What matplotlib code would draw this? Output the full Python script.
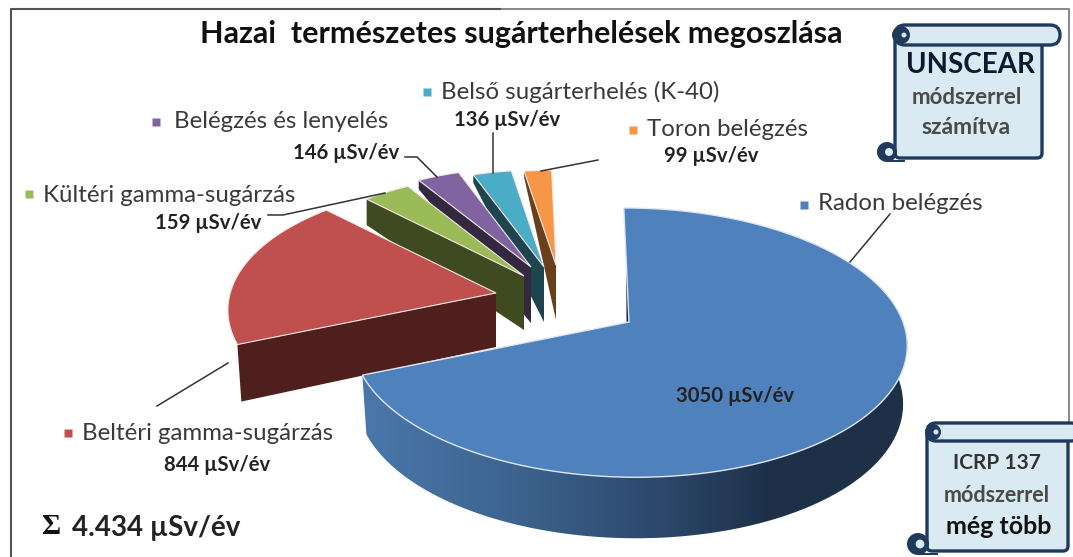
import numpy as np
import matplotlib
matplotlib.use("Agg")
import matplotlib.pyplot as plt
from matplotlib.colors import LinearSegmentedColormap
from matplotlib.patches import Polygon, FancyBboxPatch, Circle, Rectangle

# Data
names = ["Radon belégzés", "Beltéri gamma-sugárzás", "Kültéri gamma-sugárzás",
         "Belégzés és lenyelés", "Belső sugárterhelés (K-40)", "Toron belégzés"]
values = [3050, 844, 159, 146, 136, 99]
unit = "µSv/év"
total_label = "4.434 µSv/év"
title = "Hazai  természetes sugárterhelések megoszlása"

# Style, one entry per slice
top_colors = ["#4f81bd", "#c0504d", "#9bbb59", "#8064a2", "#4bacc6", "#f79646"]
side_colors = ["#1e3048", "#4f1f1e", "#3f4a21", "#33283f", "#1e4450", "#6a3f1c"]
apex = [(629, 322), (496, 293), (524, 276), (531, 267), (544, 267), (556, 265)]
shrink = [1.0, 0.97, 0.9, 0.87, 0.85, 0.83]
depth_near = [58, 54, 54, 56, 55, 55]
depth_far = [58, 57, 26, 9, 8, 6]

plt.rcParams["font.family"] = ["Lato", "DejaVu Sans"]
fig = plt.figure(figsize=(10.73, 5.57), dpi=100)
ax = fig.add_axes([0, 0, 1, 1])


def rim(t_deg, scale=1.0):
    # pie circle to picture, with some perspective (far side smaller)
    t = np.radians(t_deg)
    u, v = np.sin(t), np.cos(t)
    s = scale / (1 + 0.153 * v)
    return 274 * u * s - 6 * v * s, -131.5 * v * s


angles = np.cumsum([0] + values) / sum(values) * 360

# small slices and the red one, back to front
for i in [5, 4, 3, 2, 1]:
    t = np.linspace(angles[i], angles[i + 1], 60)
    dx, dy = rim(t, shrink[i])
    x = apex[i][0] + dx
    y = apex[i][1] + dy
    if i == 1:
        # front cut of the red slice
        side = [(x[0], y[0]), apex[i], (apex[i][0], apex[i][1] + depth_near[i]),
                (x[0] + 4, y[0] + depth_far[i])]
    else:
        side = [(x[0], y[0]), apex[i], (apex[i][0], apex[i][1] + depth_near[i]),
                (x[0], y[0] + depth_far[i])]
    ax.add_patch(Polygon(side, fc=side_colors[i], ec="none", zorder=2))
    top = np.column_stack([np.r_[apex[i][0], x], np.r_[apex[i][1], y]])
    ax.add_patch(Polygon(top, fc=top_colors[i], ec="#f3e9e6", lw=0.8, zorder=3))

# radon side with the dark gradient
t = np.linspace(80, angles[1], 200)
dx, dy = rim(t)
x0, y0 = apex[0]
band = np.r_[np.column_stack([x0 + dx, y0 + dy]),
             np.column_stack([x0 + dx * 0.985, y0 + dy + depth_near[0] + 3 * (-np.cos(np.radians(t))) ])[::-1]]
band_patch = Polygon(band, fc="none", ec="none", zorder=4)
ax.add_patch(band_patch)
cmap = LinearSegmentedColormap.from_list("side", ["#4a78ab", "#3f6692", "#2f4d73", "#1e3048", "#1e3048"])
img = ax.imshow(np.linspace(0, 1, 256).reshape(1, -1), cmap=cmap, aspect="auto",
                extent=(360, 910, 560, 200), zorder=4)
img.set_clip_path(band_patch)

# dark sliver at the inner corner of the radon slice
ax.add_patch(Polygon([(626, 262), (629, 322), (626.5, 322)], fc=side_colors[0], ec="none", zorder=4))

# radon top
t = np.linspace(angles[0], angles[1], 300)
dx, dy = rim(t)
top = np.column_stack([np.r_[x0, x0 + dx], np.r_[y0, y0 + dy]])
ax.add_patch(Polygon(top, fc=top_colors[0], ec="#dce6f2", lw=1.0, zorder=5))

# frame
ax.plot([11, 11, 1069, 1069], [557, 9, 9, 425], color="#7f7f7f", lw=1.3, zorder=1)
ax.plot([11, 11, 500], [557, 9, 9], color="#555555", lw=1.5, zorder=1)

# title and texts
ax.text(521, 34, title, fontsize=22, fontweight="bold", ha="center", va="center", color="#111111", zorder=8)

label_color = "#3a3a3a"
label_pos = [(818, 204), (82, 433), (43, 195), (174, 122), (441, 92), (647, 130)]
mark_pos = [(804, 205), (68, 433), (29, 194), (156, 122), (427, 92), (633, 130)]
value_pos = [(735, 396), (217, 465), (208, 223), (346, 153), (507, 120), (711, 156)]
for i in range(len(values)):
    ax.text(label_pos[i][0], label_pos[i][1], names[i], fontsize=17.3, ha="left", va="center",
            color=label_color, zorder=8)
    ax.plot(mark_pos[i][0], mark_pos[i][1], "s", ms=5.5, color=top_colors[i], mec="none", zorder=8)
    ax.text(value_pos[i][0], value_pos[i][1], "%d %s" % (values[i], unit), fontsize=14.6, fontweight="bold",
            ha="center", va="center", color="#222222", zorder=8)

# leader lines
leaders = [[(890, 214), (850, 262)], [(157, 406), (228, 363)], [(268, 215), (283, 215), (385, 193)],
           [(405, 157), (417, 157), (437, 177)], [(493, 133), (493, 173)], [(598, 160), (541, 171)]]
for pts in leaders:
    ax.plot([p[0] for p in pts], [p[1] for p in pts], color="#333333", lw=1.1, zorder=7)

ax.text(42, 527, "Σ", fontsize=21, fontweight="bold", family="Liberation Serif", ha="left", va="center",
        color="#111111", zorder=8)
ax.text(72, 528, total_label, fontsize=20, fontweight="bold", ha="left", va="center", color="#222222", zorder=8)


def scroll(left, right, top, bar, bottom, roll_left, bar_right):
    edge = "#1f3a5c"
    fill = "#daeaf3"
    ax.add_patch(FancyBboxPatch((left, top + 6), right - left, bottom - top - 10, boxstyle="round,pad=0,rounding_size=5",
                                fc=fill, ec=edge, lw=2.4, zorder=6))
    h = bar - top
    ax.add_patch(FancyBboxPatch((left, top), bar_right - left, h, boxstyle="round,pad=0,rounding_size=%g" % (h / 2),
                                fc=fill, ec=edge, lw=2.4, zorder=6))
    ax.add_patch(Circle((left + 6, top + h / 2), h / 2 - 1, fc=edge, ec="none", zorder=6))
    ax.add_patch(Circle((left + 9, top + h / 2), 2.5, fc=fill, ec="none", zorder=6))
    r = (left - roll_left) / 2 + 1
    ax.add_patch(Circle((roll_left + r, bottom - r), r, fc=edge, ec="none", zorder=6))
    ax.add_patch(Circle((roll_left + r + 2, bottom - r), r / 2.5, fc=fill, ec="none", zorder=6))
    ax.add_patch(Rectangle((roll_left + r, bottom - 2), left - roll_left, 2, fc=edge, ec="none", zorder=6))


scroll(895, 1042, 25, 45, 162, 877, 1060)
ax.text(970, 65, "UNSCEAR", fontsize=20, fontweight="bold", ha="center", va="center", color="#0b1a30", zorder=8)
ax.text(967, 97, "módszerrel", fontsize=16, fontweight="bold", ha="center", va="center", color="#4a4a4a", zorder=8)
ax.text(966, 128, "számítva", fontsize=16.5, fontweight="bold", ha="center", va="center", color="#4a4a4a", zorder=8)

scroll(927, 1068, 423, 441, 555, 907, 1080)
ax.text(997, 463, "ICRP 137", fontsize=15, fontweight="bold", ha="center", va="center", color="#333333", zorder=8)
ax.text(997, 495, "módszerrel", fontsize=15.5, fontweight="bold", ha="center", va="center", color="#4a4a4a", zorder=8)
ax.text(999, 527, "még több", fontsize=18, fontweight="bold", ha="center", va="center", color="#111111", zorder=8)

ax.set_xlim(0, 1073)
ax.set_ylim(557, 0)
ax.axis("off")
fig.savefig("out.png", dpi=100)
